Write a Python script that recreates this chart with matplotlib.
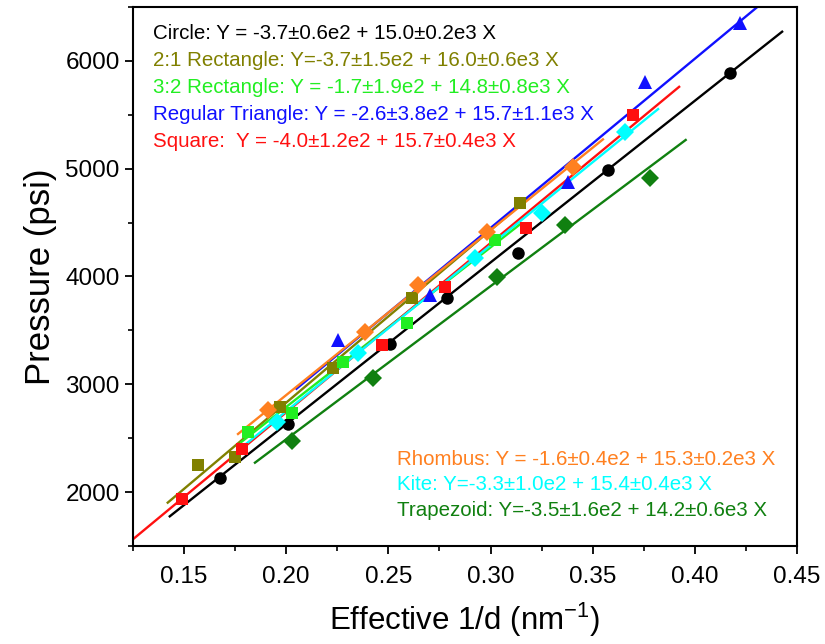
import matplotlib

matplotlib.use("Agg")
import matplotlib.pyplot as plt
import numpy as np

plt.rcParams.update(
    {
        "font.family": ["Liberation Sans", "DejaVu Sans"],
        "mathtext.fontset": "custom",
        "mathtext.rm": "Liberation Sans",
        "mathtext.it": "Liberation Sans",
        "axes.linewidth": 1.5,
        "xtick.major.width": 1.3,
        "ytick.major.width": 1.3,
        "xtick.minor.width": 1.2,
        "ytick.minor.width": 1.2,
        "xtick.major.size": 5.5,
        "ytick.major.size": 5.5,
        "xtick.minor.size": 3.5,
        "ytick.minor.size": 3.5,
    }
)

# shape names, in drawing order
shapes = ["Circle", "2:1 Rectangle", "3:2 Rectangle", "Regular Triangle",
          "Square", "Rhombus", "Kite", "Trapezoid"]
colors = ["#000000", "#808000", "#22ee22", "#1010ff",
          "#ff1010", "#ff8020", "#00ffff", "#108010"]
markers = ["o", "s", "s", "^", "s", "D", "D", "D"]

# measured points: effective 1/d (nm^-1) and pressure (psi)
x_circle = [0.1676, 0.2009, 0.2508, 0.2787, 0.3134, 0.3575, 0.4172]
y_circle = [2131, 2632, 3374, 3800, 4218, 4988, 5888]
x_rect21 = [0.1568, 0.175, 0.197, 0.2229, 0.2616, 0.3144]
y_rect21 = [2251, 2326, 2790, 3151, 3801, 4682]
x_rect32 = [0.1813, 0.2028, 0.2278, 0.2591, 0.302]
y_rect32 = [2557, 2734, 3207, 3569, 4338]
x_tri = [0.2253, 0.2704, 0.338, 0.3756, 0.4221]
y_tri = [3411, 3828, 4876, 5804, 6351]
x_square = [0.149, 0.1784, 0.2469, 0.2777, 0.3174, 0.3697]
y_square = [1936, 2400, 3365, 3902, 4450, 5498]
x_rhombus = [0.191, 0.2386, 0.2645, 0.2983, 0.3404]
y_rhombus = [2762, 3485, 3921, 4413, 5016]
x_kite = [0.1955, 0.235, 0.2924, 0.325, 0.3658]
y_kite = [2650, 3290, 4172, 4589, 5340]
x_trap = [0.2028, 0.2425, 0.3032, 0.3364, 0.378]
y_trap = [2474, 3058, 3995, 4478, 4913]

xs = [x_circle, x_rect21, x_rect32, x_tri, x_square, x_rhombus, x_kite, x_trap]
ys = [y_circle, y_rect21, y_rect32, y_tri, y_square, y_rhombus, y_kite, y_trap]

# linear fits Y = a + b X  (a in psi, b in psi*nm)
fit_a = [-370, -370, -170, -260, -400, -160, -330, -350]
fit_b = [15000, 16000, 14800, 15700, 15700, 15300, 15400, 14200]
fit_lo = [0.143, 0.142, 0.178, 0.205, 0.125, 0.1764, 0.177, 0.1847]
fit_hi = [0.4427, 0.318, 0.315, 0.4306, 0.3923, 0.355, 0.382, 0.3955]

eq_text = [
    "Circle: Y = -3.7\u00b10.6e2 + 15.0\u00b10.2e3 X",
    "2:1 Rectangle: Y=-3.7\u00b11.5e2 + 16.0\u00b10.6e3 X",
    "3:2 Rectangle: Y = -1.7\u00b11.9e2 + 14.8\u00b10.8e3 X",
    "Regular Triangle: Y = -2.6\u00b13.8e2 + 15.7\u00b11.1e3 X",
    "Square:  Y = -4.0\u00b11.2e2 + 15.7\u00b10.4e3 X",
    "Rhombus: Y = -1.6\u00b10.4e2 + 15.3\u00b10.2e3 X",
    "Kite: Y=-3.3\u00b11.0e2 + 15.4\u00b10.4e3 X",
    "Trapezoid: Y=-3.5\u00b11.6e2 + 14.2\u00b10.6e3 X",
]

x_ticks = [0.15, 0.20, 0.25, 0.30, 0.35, 0.40, 0.45]
y_ticks = [2000, 3000, 4000, 5000, 6000]

fig = plt.figure(figsize=(8.25, 6.44), dpi=100)
ax = fig.add_axes([0.1612, 0.1522, 0.8049, 0.8370])

msize = {"o": 9, "s": 8.8, "^": 10.5, "D": 8.8}
for i in range(len(shapes)):
    xl = np.linspace(fit_lo[i], fit_hi[i], 50)
    ax.plot(xl, fit_a[i] + fit_b[i] * xl, color=colors[i], linewidth=1.7, zorder=2)
    ax.plot(xs[i], ys[i], linestyle="none", marker=markers[i],
            markersize=msize[markers[i]], color=colors[i],
            markeredgewidth=0, zorder=3)

ax.set_xlim(0.125, 0.45)
ax.set_ylim(1500, 6500)
ax.set_xticks(x_ticks)
ax.set_xticklabels([f"{v:.2f}" for v in x_ticks])
ax.set_yticks(y_ticks)
ax.set_xticks(np.arange(0.125, 0.451, 0.05), minor=True)
ax.set_yticks(np.arange(1500, 6501, 1000), minor=True)
ax.tick_params(axis="both", which="both", direction="out", labelsize=17.5,
               top=False, right=False)
ax.tick_params(axis="x", pad=9)
ax.tick_params(axis="y", pad=4)

ax.set_xlabel("Effective 1/d (nm$^{-1}$)", fontsize=22.5, labelpad=9)
ax.set_ylabel("Pressure (psi)", fontsize=25, labelpad=6)

for k in range(5):
    ax.text(0.03, 0.951 - k * 0.0503, eq_text[k], color=colors[k],
            fontsize=14.8, va="center", ha="left", transform=ax.transAxes)
for j, k in enumerate(range(5, 8)):
    ax.text(0.3976, 0.161 - j * 0.0475, eq_text[k], color=colors[k],
            fontsize=14.8, va="center", ha="left", transform=ax.transAxes)

fig.savefig("out.png", dpi=100)
